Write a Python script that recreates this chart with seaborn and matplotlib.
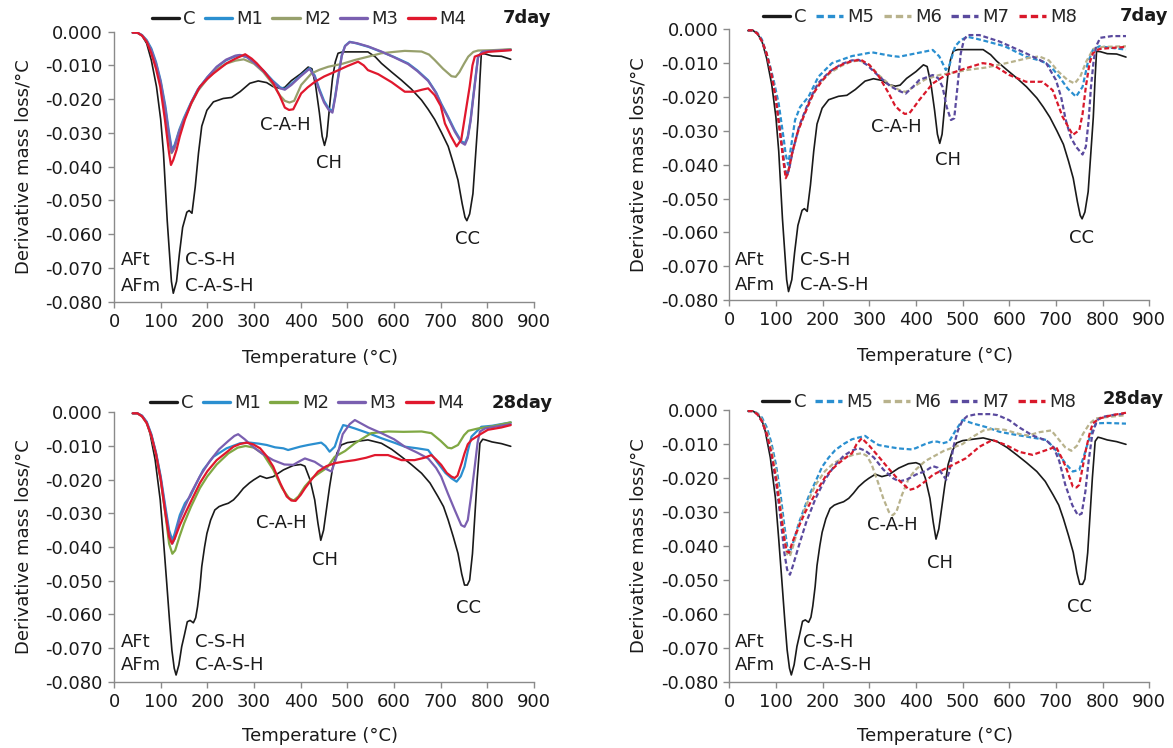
import matplotlib
matplotlib.use("Agg")
import matplotlib.pyplot as plt
import seaborn as sns
from matplotlib.ticker import FormatStrFormatter, MultipleLocator

######### DTG data (temperature in C, derivative mass loss /C) #########

# 7 day control
C7_T = [40, 50, 60, 70, 80, 91, 100, 106, 110, 114,
        119, 123, 127, 134, 140, 147, 156, 161, 167, 174,
        181, 188, 199, 213, 234, 252, 270, 291, 309, 327,
        341, 356, 366, 380, 400, 416, 424, 432, 440, 446,
        451, 456, 462, 468, 474, 480, 490, 510, 544, 560,
        573, 595, 616, 637, 659, 673, 687, 702, 716, 727,
        737, 746, 752, 756, 762, 769, 775, 780, 784, 787,
        795, 810, 830, 850]
C7_Y = [-0.0004, -0.0003, -0.0012, -0.0035, -0.0085, -0.0163, -0.026, -0.036, -0.046, -0.056,
        -0.066, -0.074, -0.0775, -0.074, -0.066, -0.058, -0.0535, -0.053, -0.0538, -0.046,
        -0.036, -0.028, -0.0233, -0.0208, -0.0198, -0.0195, -0.0178, -0.0153, -0.0146, -0.0151,
        -0.0163, -0.0168, -0.0165, -0.0145, -0.0125, -0.0105, -0.011, -0.016, -0.024, -0.031,
        -0.0337, -0.031, -0.022, -0.014, -0.009, -0.0064, -0.006, -0.006, -0.006, -0.0075,
        -0.0094, -0.012, -0.0144, -0.017, -0.0203, -0.023, -0.026, -0.030, -0.034, -0.039,
        -0.044, -0.051, -0.055, -0.056, -0.054, -0.048, -0.036, -0.026, -0.014, -0.0065,
        -0.0066, -0.0072, -0.0073, -0.0082]

M13_7_T = [40, 50, 60, 70, 80, 90, 100, 110, 117, 124,
           130, 140, 150, 165, 180, 200, 220, 240, 260, 270,
           285, 300, 320, 340, 356, 366, 380, 400, 419, 430,
           440, 450, 460, 468, 474, 480, 488, 495, 505, 520,
           545, 573, 600, 630, 650, 673, 690, 701, 715, 730,
           744, 752, 758, 764, 769, 775, 780, 790, 810, 850]
M1_7_Y = [-0.0003, -0.0003, -0.001, -0.0025, -0.005, -0.009, -0.0145, -0.022, -0.029, -0.035,
          -0.0335, -0.029, -0.0255, -0.021, -0.017, -0.0135, -0.0105, -0.0085, -0.0073, -0.007,
          -0.0075, -0.009, -0.0115, -0.0145, -0.0165, -0.017, -0.0155, -0.013, -0.0108, -0.013,
          -0.017, -0.0205, -0.0228, -0.0235, -0.019, -0.0135, -0.007, -0.0042, -0.003, -0.0035,
          -0.0045, -0.006, -0.0075, -0.0094, -0.0115, -0.0144, -0.018, -0.0213, -0.025, -0.0292,
          -0.0325, -0.033, -0.031, -0.026, -0.020, -0.013, -0.0074, -0.0058, -0.0057, -0.0053]
M3_7_Y = [-0.0003, -0.0003, -0.0011, -0.0028, -0.0055, -0.0095, -0.015, -0.023, -0.030, -0.0358,
          -0.034, -0.0295, -0.026, -0.0212, -0.0172, -0.0135, -0.0104, -0.0083, -0.0071, -0.0069,
          -0.0076, -0.0092, -0.0117, -0.0148, -0.0168, -0.0172, -0.0158, -0.0132, -0.011, -0.0135,
          -0.0175, -0.021, -0.0232, -0.024, -0.0195, -0.014, -0.0072, -0.0043, -0.0031, -0.0034,
          -0.0044, -0.0059, -0.0076, -0.0096, -0.0117, -0.0146, -0.0182, -0.0216, -0.0253, -0.0296,
          -0.0328, -0.0335, -0.0315, -0.0265, -0.0205, -0.0135, -0.0076, -0.0059, -0.0057, -0.0054]

M2_7_T = [40, 50, 60, 70, 80, 90, 100, 110, 117, 123,
          130, 140, 150, 165, 180, 200, 220, 240, 260, 278,
          300, 320, 340, 356, 366, 376, 386, 401, 423, 440,
          459, 490, 516, 545, 573, 600, 623, 659, 675, 687,
          705, 723, 732, 740, 750, 759, 770, 780, 810, 850]
M2_7_Y = [-0.0003, -0.0003, -0.0011, -0.0028, -0.0058, -0.0098, -0.0155, -0.0235, -0.031, -0.036,
          -0.0345, -0.0295, -0.026, -0.0215, -0.0175, -0.014, -0.0112, -0.0095, -0.0086, -0.0082,
          -0.0095, -0.012, -0.0155, -0.019, -0.0205, -0.021, -0.0205, -0.0158, -0.0124, -0.0113,
          -0.0104, -0.0095, -0.0084, -0.0074, -0.0064, -0.006, -0.0057, -0.0059, -0.0068, -0.0084,
          -0.011, -0.0132, -0.0134, -0.012, -0.0095, -0.0074, -0.006, -0.0056, -0.0055, -0.0052]

M4_7_T = [40, 50, 60, 70, 80, 90, 99, 109, 118, 122,
          127, 134, 141, 152, 166, 184, 200, 213, 241, 260,
          270, 281, 295, 306, 323, 341, 355, 366, 375, 384,
          401, 415, 430, 450, 473, 500, 523, 535, 544, 566,
          595, 623, 644, 660, 673, 687, 700, 709, 722, 734,
          744, 752, 762, 768, 773, 790, 801, 850]
M4_7_Y = [-0.0003, -0.0003, -0.0012, -0.003, -0.0065, -0.011, -0.0163, -0.026, -0.036, -0.0395,
          -0.038, -0.035, -0.031, -0.026, -0.021, -0.0163, -0.014, -0.0124, -0.0094, -0.008,
          -0.0074, -0.0067, -0.008, -0.0094, -0.012, -0.0153, -0.019, -0.0225, -0.0232, -0.023,
          -0.0183, -0.0165, -0.0149, -0.0133, -0.0119, -0.0102, -0.0089, -0.010, -0.0114, -0.0126,
          -0.015, -0.0178, -0.0178, -0.0172, -0.0168, -0.0188, -0.022, -0.0272, -0.031, -0.034,
          -0.032, -0.025, -0.0163, -0.010, -0.0074, -0.0065, -0.006, -0.0055]

M5_7_T = [40, 50, 60, 70, 84, 95, 106, 116, 121, 126,
          131, 141, 152, 170, 191, 220, 263, 306, 349, 364,
          400, 436, 450, 464, 472, 484, 496, 510, 530, 550,
          590, 636, 665, 679, 695, 707, 725, 743, 757, 768,
          779, 793, 820, 850]
M5_7_Y = [-0.0003, -0.0003, -0.001, -0.003, -0.009, -0.015, -0.022, -0.0317, -0.037, -0.040,
          -0.036, -0.0268, -0.0229, -0.0199, -0.014, -0.010, -0.0079, -0.0068, -0.0079, -0.0081,
          -0.0071, -0.0061, -0.008, -0.012, -0.0105, -0.005, -0.0032, -0.0022, -0.0028, -0.0035,
          -0.005, -0.0081, -0.0092, -0.010, -0.012, -0.014, -0.0175, -0.0199, -0.017, -0.010,
          -0.0061, -0.005, -0.0055, -0.006]

M6_7_T = [40, 50, 60, 70, 80, 90, 100, 110, 118, 123,
          128, 136, 150, 170, 190, 215, 240, 262, 280, 300,
          320, 345, 365, 378, 395, 420, 450, 480, 510, 550,
          600, 640, 664, 685, 705, 725, 740, 752, 765, 780,
          800, 850]
M6_7_Y = [-0.0003, -0.0003, -0.0012, -0.0035, -0.007, -0.0125, -0.020, -0.031, -0.040, -0.043,
          -0.041, -0.036, -0.029, -0.022, -0.0165, -0.013, -0.0108, -0.0095, -0.0092, -0.0105,
          -0.0135, -0.0165, -0.018, -0.0185, -0.017, -0.0148, -0.0135, -0.0128, -0.012, -0.0113,
          -0.0098, -0.0085, -0.008, -0.0092, -0.0125, -0.015, -0.016, -0.014, -0.0095, -0.0058,
          -0.0052, -0.005]

M7_7_T = [40, 50, 60, 70, 80, 90, 100, 110, 118, 123,
          128, 136, 150, 170, 190, 215, 240, 262, 277, 295,
          320, 345, 364, 378, 395, 407, 436, 448, 457, 466,
          475, 482, 489, 496, 503, 511, 536, 579, 636, 679,
          700, 711, 721, 732, 743, 757, 764, 770, 775, 781,
          786, 795, 820, 850]
M7_7_Y = [-0.0003, -0.0003, -0.0012, -0.0035, -0.0072, -0.0128, -0.0205, -0.0315, -0.040, -0.0435,
          -0.0415, -0.036, -0.0285, -0.0215, -0.016, -0.0125, -0.0103, -0.0092, -0.009, -0.0105,
          -0.0138, -0.0168, -0.0182, -0.019, -0.0168, -0.015, -0.0135, -0.0145, -0.017, -0.023,
          -0.0268, -0.0263, -0.017, -0.0071, -0.003, -0.0017, -0.0017, -0.0036, -0.0071, -0.010,
          -0.015, -0.020, -0.0268, -0.032, -0.0347, -0.037, -0.0347, -0.027, -0.017, -0.009,
          -0.005, -0.0025, -0.002, -0.002]

M8_7_T = [40, 50, 60, 70, 80, 90, 100, 110, 117, 121,
          126, 134, 145, 160, 180, 200, 220, 245, 265, 282,
          300, 320, 340, 355, 364, 376, 386, 396, 407, 436,
          464, 507, 543, 560, 571, 600, 636, 671, 693, 714,
          736, 750, 757, 764, 772, 779, 793, 820, 850]
M8_7_Y = [-0.0003, -0.0003, -0.0012, -0.0035, -0.0072, -0.013, -0.021, -0.032, -0.040, -0.044,
          -0.0425, -0.037, -0.031, -0.0255, -0.019, -0.015, -0.012, -0.0102, -0.0093, -0.009,
          -0.0105, -0.0138, -0.0185, -0.0225, -0.0238, -0.025, -0.0248, -0.023, -0.0209, -0.016,
          -0.0135, -0.0115, -0.010, -0.0103, -0.011, -0.0135, -0.0155, -0.0155, -0.018, -0.0258,
          -0.0312, -0.0298, -0.025, -0.017, -0.010, -0.0071, -0.0058, -0.0055, -0.0052]

# 28 day
C28_T = [40, 50, 60, 70, 77, 88, 99, 106, 113, 119,
         124, 129, 133, 139, 145, 151, 157, 163, 170, 175,
         179, 184, 188, 194, 199, 207, 216, 225, 234, 245,
         256, 266, 277, 290, 299, 313, 327, 341, 363, 384,
         400, 409, 420, 430, 437, 443, 449, 455, 462, 469,
         478, 487, 500, 516, 544, 573, 595, 616, 637, 659,
         677, 694, 706, 716, 727, 737, 745, 751, 757, 762,
         768, 773, 778, 784, 790, 796, 810, 830, 850]
C28_Y = [-0.0003, -0.0003, -0.001, -0.003, -0.0062, -0.014, -0.026, -0.038, -0.0508, -0.062,
         -0.0706, -0.076, -0.078, -0.075, -0.0696, -0.066, -0.0622, -0.0618, -0.0625, -0.061,
         -0.0577, -0.052, -0.0458, -0.040, -0.036, -0.032, -0.029, -0.028, -0.0275, -0.027,
         -0.026, -0.0245, -0.0226, -0.021, -0.0201, -0.0189, -0.0196, -0.0191, -0.0171, -0.0158,
         -0.0155, -0.016, -0.020, -0.026, -0.033, -0.038, -0.035, -0.029, -0.022, -0.016,
         -0.012, -0.0097, -0.009, -0.0087, -0.0082, -0.0092, -0.011, -0.0132, -0.0155, -0.0181,
         -0.021, -0.025, -0.028, -0.032, -0.037, -0.0419, -0.048, -0.0513, -0.0513, -0.0498,
         -0.042, -0.031, -0.020, -0.0092, -0.008, -0.0082, -0.0088, -0.0093, -0.0101]

M1_28_T = [40, 50, 60, 70, 80, 90, 100, 110, 118, 125,
           130, 141, 152, 163, 177, 191, 213, 241, 270, 291,
           310, 327, 345, 363, 373, 399, 416, 444, 453, 462,
           473, 482, 491, 500, 516, 545, 573, 600, 623, 650,
           673, 694, 710, 723, 734, 743, 751, 758, 766, 787,
           810, 850]
M1_28_Y = [-0.0003, -0.0003, -0.001, -0.0028, -0.0065, -0.012, -0.019, -0.028, -0.035, -0.038,
           -0.036, -0.0305, -0.027, -0.025, -0.021, -0.0171, -0.0132, -0.0107, -0.0092, -0.009,
           -0.0093, -0.0097, -0.0104, -0.0107, -0.0112, -0.0102, -0.0097, -0.009, -0.010, -0.0117,
           -0.0102, -0.0065, -0.0038, -0.0041, -0.0048, -0.0062, -0.0077, -0.009, -0.0102, -0.0107,
           -0.0112, -0.0151, -0.018, -0.0196, -0.0206, -0.019, -0.0161, -0.0115, -0.0072, -0.0043,
           -0.004, -0.003]

M2_28_T = [40, 50, 60, 70, 80, 90, 100, 110, 118, 125,
           131, 140, 150, 165, 184, 200, 220, 245, 265, 282,
           300, 320, 341, 360, 375, 385, 395, 409, 425, 440,
           456, 473, 495, 516, 551, 587, 620, 659, 680, 700,
           715, 723, 737, 750, 759, 780, 810, 850]
M2_28_Y = [-0.0003, -0.0003, -0.0012, -0.0032, -0.007, -0.0125, -0.020, -0.030, -0.039, -0.042,
           -0.041, -0.037, -0.033, -0.028, -0.0225, -0.019, -0.0155, -0.0122, -0.0105, -0.010,
           -0.0105, -0.0125, -0.017, -0.0225, -0.0255, -0.0262, -0.025, -0.022, -0.0195, -0.018,
           -0.0165, -0.0132, -0.0115, -0.0092, -0.0062, -0.0057, -0.0058, -0.0057, -0.0062, -0.0085,
           -0.0105, -0.0107, -0.0097, -0.0068, -0.0055, -0.0048, -0.0042, -0.003]

M3_28_T = [40, 50, 60, 70, 80, 90, 100, 110, 118, 125,
           130, 140, 152, 165, 184, 205, 225, 245, 258, 266,
           280, 300, 320, 341, 365, 384, 398, 409, 430, 451,
           466, 480, 490, 505, 516, 545, 573, 600, 623, 650,
           673, 690, 701, 715, 730, 744, 751, 758, 765, 773,
           779, 784, 795, 820, 850]
M3_28_Y = [-0.0003, -0.0003, -0.0011, -0.003, -0.0068, -0.0122, -0.0195, -0.029, -0.036, -0.039,
           -0.0375, -0.032, -0.028, -0.024, -0.019, -0.0145, -0.011, -0.0085, -0.007, -0.0065,
           -0.008, -0.0105, -0.0125, -0.0142, -0.0155, -0.0156, -0.0145, -0.0137, -0.0147, -0.0166,
           -0.0176, -0.012, -0.0065, -0.0035, -0.0023, -0.0045, -0.0062, -0.008, -0.0102, -0.012,
           -0.0137, -0.0165, -0.0191, -0.024, -0.029, -0.0335, -0.034, -0.032, -0.025, -0.016,
           -0.009, -0.0057, -0.0048, -0.0042, -0.0035]

M4_28_T = [40, 50, 60, 70, 80, 90, 100, 110, 118, 124,
           130, 141, 156, 170, 184, 200, 220, 240, 256, 270,
           284, 298, 313, 327, 341, 356, 370, 380, 389, 400,
           409, 423, 437, 455, 473, 495, 516, 540, 559, 587,
           616, 644, 665, 680, 690, 701, 713, 723, 730, 736,
           745, 751, 758, 766, 785, 801, 830, 850]
M4_28_Y = [-0.0003, -0.0003, -0.0012, -0.0032, -0.007, -0.0125, -0.020, -0.030, -0.037, -0.039,
           -0.0375, -0.0335, -0.029, -0.025, -0.021, -0.0175, -0.0142, -0.012, -0.0102, -0.0094,
           -0.009, -0.0095, -0.0107, -0.013, -0.0161, -0.021, -0.025, -0.0262, -0.0263, -0.0245,
           -0.0226, -0.020, -0.0176, -0.016, -0.0151, -0.0146, -0.0142, -0.0135, -0.0127, -0.0127,
           -0.0142, -0.0142, -0.0135, -0.0127, -0.014, -0.0156, -0.018, -0.0191, -0.0195, -0.0188,
           -0.015, -0.0122, -0.0095, -0.0082, -0.0065, -0.0052, -0.0045, -0.0038]

M5_28_T = [40, 50, 60, 70, 80, 90, 100, 110, 118, 124,
           129, 135, 149, 170, 185, 199, 213, 227, 245, 263,
           280, 291, 305, 320, 340, 363, 391, 400, 420, 436,
           446, 457, 465, 471, 485, 500, 521, 550, 579, 610,
           636, 679, 695, 707, 722, 736, 750, 760, 768, 778,
           786, 810, 850]
M5_28_Y = [-0.0003, -0.0003, -0.0009, -0.0022, -0.005, -0.0095, -0.016, -0.025, -0.034, -0.040,
           -0.0422, -0.040, -0.0333, -0.0255, -0.021, -0.0167, -0.014, -0.0118, -0.010, -0.0086,
           -0.008, -0.0076, -0.009, -0.0103, -0.0108, -0.0113, -0.0116, -0.0112, -0.010, -0.0093,
           -0.0093, -0.0098, -0.0095, -0.0093, -0.006, -0.0029, -0.0039, -0.005, -0.0064, -0.0072,
           -0.0078, -0.0088, -0.011, -0.0132, -0.016, -0.0181, -0.0176, -0.0135, -0.0098, -0.006,
           -0.0039, -0.0038, -0.004]

M6_28_T = [40, 50, 60, 70, 80, 90, 100, 110, 118, 124,
           130, 137, 149, 165, 185, 205, 225, 245, 265, 284,
           295, 305, 318, 330, 342, 350, 358, 370, 385, 400,
           420, 440, 460, 480, 500, 520, 545, 565, 590, 620,
           640, 665, 690, 705, 720, 733, 745, 758, 772, 785,
           800, 850]
M6_28_Y = [-0.0003, -0.0003, -0.001, -0.0028, -0.006, -0.011, -0.018, -0.028, -0.037, -0.0425,
           -0.043, -0.040, -0.034, -0.028, -0.022, -0.018, -0.0155, -0.0142, -0.0132, -0.0127,
           -0.0135, -0.016, -0.021, -0.026, -0.030, -0.031, -0.030, -0.025, -0.020, -0.0175,
           -0.015, -0.0135, -0.012, -0.011, -0.010, -0.008, -0.006, -0.0055, -0.0058, -0.007,
           -0.0075, -0.0065, -0.006, -0.0085, -0.011, -0.012, -0.0105, -0.007, -0.004, -0.0025,
           -0.0022, -0.0015]

M7_28_T = [40, 50, 60, 70, 80, 90, 100, 110, 118, 124,
           130, 136, 149, 165, 185, 205, 225, 245, 262, 277,
           292, 310, 330, 350, 364, 380, 400, 420, 436, 447,
           457, 465, 472, 480, 490, 500, 510, 530, 560, 575,
           600, 620, 650, 680, 695, 707, 720, 735, 747, 755,
           763, 770, 778, 788, 800, 820, 850]
M7_28_Y = [-0.0003, -0.0003, -0.0012, -0.0033, -0.007, -0.013, -0.021, -0.032, -0.042, -0.047,
           -0.0485, -0.046, -0.040, -0.033, -0.026, -0.0205, -0.0165, -0.0135, -0.012, -0.0112,
           -0.012, -0.014, -0.0175, -0.020, -0.021, -0.0205, -0.019, -0.018, -0.0165, -0.017,
           -0.019, -0.0205, -0.018, -0.011, -0.006, -0.003, -0.0018, -0.0012, -0.0012, -0.0015,
           -0.003, -0.005, -0.0075, -0.009, -0.011, -0.015, -0.022, -0.028, -0.031, -0.0305,
           -0.024, -0.015, -0.007, -0.003, -0.002, -0.0015, -0.001]

M8_28_T = [40, 50, 60, 70, 80, 90, 100, 110, 118, 123,
           128, 135, 149, 163, 177, 191, 206, 220, 234, 250,
           263, 273, 284, 300, 320, 340, 363, 386, 400, 420,
           436, 471, 507, 536, 564, 593, 621, 650, 679, 700,
           712, 721, 736, 744, 750, 757, 764, 772, 779, 793,
           820, 850]
M8_28_Y = [-0.0003, -0.0003, -0.0012, -0.0033, -0.007, -0.0125, -0.020, -0.030, -0.038, -0.0415,
           -0.042, -0.039, -0.0343, -0.030, -0.0265, -0.023, -0.0196, -0.0175, -0.0157, -0.014,
           -0.0127, -0.010, -0.0083, -0.0105, -0.0137, -0.017, -0.0206, -0.0235, -0.023, -0.021,
           -0.0191, -0.0167, -0.0142, -0.0108, -0.0088, -0.0103, -0.0123, -0.0132, -0.0118, -0.0108,
           -0.014, -0.0167, -0.0225, -0.0228, -0.022, -0.017, -0.0118, -0.007, -0.0039, -0.0025,
           -0.0015, -0.0008]

# colours
col = {'C': '#1a1a1a', 'M1': '#2b8fd0', 'M2_7': '#97a06c', 'M2_28': '#80a843', 'M3': '#7a5fb0',
       'M4': '#e0182d', 'M5': '#2a8fd0', 'M6': '#b8b28c', 'M7': '#5a4a9e', 'M8': '#d9182a'}

sns.set_theme(style="white")
plt.rcParams['font.family'] = ['DejaVu Sans']
plt.rcParams['axes.unicode_minus'] = False

fig = plt.figure(figsize=(11.73, 7.48), dpi=100)
ax1 = fig.add_axes([0.0972, 0.5967, 0.3581, 0.3610])
ax2 = fig.add_axes([0.6217, 0.5989, 0.3581, 0.3619])
ax3 = fig.add_axes([0.0972, 0.0886, 0.3581, 0.3602])
ax4 = fig.add_axes([0.6217, 0.0886, 0.3581, 0.3632])

FS = 13

def draw(ax, series, day, ann, leg_x, leg_y, day_x, day_y, xlab_y):
    for name, t, y, c, dashed in series:
        sns.lineplot(x=t, y=y, ax=ax, color=c, lw=1.2 if name == 'C' else 1.6,
                     label=name, sort=False, estimator=None)
        if dashed:
            ax.lines[-1].set_dashes([2.2, 1.2])
    ax.set_xlim(0, 900)
    ax.set_ylim(-0.08, 0)
    ax.xaxis.set_major_locator(MultipleLocator(100))
    ax.yaxis.set_major_locator(MultipleLocator(0.01))
    ax.yaxis.set_major_formatter(FormatStrFormatter('%.3f'))
    for s in ['top', 'right']:
        ax.spines[s].set_visible(False)
    for s in ['left', 'bottom']:
        ax.spines[s].set_color('#8a8a8a')
        ax.spines[s].set_linewidth(1.0)
    ax.tick_params(axis='both', direction='out', length=4, width=1, color='#8a8a8a',
                   labelsize=FS, labelcolor='#1a1a1a', left=True, bottom=True, pad=4)
    ax.set_xlabel('Temperature (°C)', fontsize=FS, color='#1a1a1a')
    ax.set_ylabel('Derivative mass loss/°C', fontsize=FS, color='#1a1a1a')
    ax.xaxis.set_label_coords(0.49, xlab_y)
    ax.yaxis.set_label_coords(-0.195, 0.5)
    leg = ax.legend(ncol=5, loc='center left', bbox_to_anchor=(leg_x, leg_y), frameon=False,
                    fontsize=FS, handlelength=1.5, handletextpad=0.25, columnspacing=0.5,
                    borderpad=0, borderaxespad=0)
    for h in leg.get_lines():
        h.set_linewidth(2.4)
    ax.text(day_x, day_y, day, transform=ax.transAxes, ha='right', va='center',
            fontsize=FS, fontweight='bold', color='#1a1a1a')
    for txt, x, y, ha in ann:
        ax.text(x, y, txt, ha=ha, va='center', fontsize=FS, color='#1a1a1a')


s1 = [('C', C7_T, C7_Y, col['C'], False),
      ('M1', M13_7_T, M1_7_Y, col['M1'], False),
      ('M2', M2_7_T, M2_7_Y, col['M2_7'], False),
      ('M3', M13_7_T, M3_7_Y, col['M3'], False),
      ('M4', M4_7_T, M4_7_Y, col['M4'], False)]
s2 = [('C', C7_T, C7_Y, col['C'], False),
      ('M5', M5_7_T, M5_7_Y, col['M5'], True),
      ('M6', M6_7_T, M6_7_Y, col['M6'], True),
      ('M7', M7_7_T, M7_7_Y, col['M7'], True),
      ('M8', M8_7_T, M8_7_Y, col['M8'], True)]
s3 = [('C', C28_T, C28_Y, col['C'], False),
      ('M1', M1_28_T, M1_28_Y, col['M1'], False),
      ('M2', M2_28_T, M2_28_Y, col['M2_28'], False),
      ('M3', M3_28_T, M3_28_Y, col['M3'], False),
      ('M4', M4_28_T, M4_28_Y, col['M4'], False)]
s4 = [('C', C28_T, C28_Y, col['C'], False),
      ('M5', M5_28_T, M5_28_Y, col['M5'], True),
      ('M6', M6_28_T, M6_28_Y, col['M6'], True),
      ('M7', M7_28_T, M7_28_Y, col['M7'], True),
      ('M8', M8_28_T, M8_28_Y, col['M8'], True)]

ann1 = [('C-A-H', 366, -0.0277, 'center'), ('CH', 461, -0.0389, 'center'), ('CC', 758, -0.0613, 'center'),
        ('AFt', 14, -0.0678, 'left'), ('AFm', 14, -0.0753, 'left'),
        ('C-S-H', 152, -0.0678, 'left'), ('C-A-S-H', 152, -0.0753, 'left')]
ann2 = [('C-A-H', 359, -0.0288, 'center'), ('CH', 469, -0.0386, 'center'), ('CC', 755, -0.0618, 'center'),
        ('AFt', 13, -0.0682, 'left'), ('AFm', 13, -0.0757, 'left'),
        ('C-S-H', 152, -0.0682, 'left'), ('C-A-S-H', 152, -0.0757, 'left')]
ann3 = [('C-A-H', 359, -0.0330, 'center'), ('CH', 452, -0.0439, 'center'), ('CC', 759, -0.0582, 'center'),
        ('AFt', 14, -0.0681, 'left'), ('AFm', 14, -0.0750, 'left'),
        ('C-S-H', 173, -0.0681, 'left'), ('C-A-S-H', 173, -0.0750, 'left')]
ann4 = [('C-A-H', 350, -0.0339, 'center'), ('CH', 451, -0.0451, 'center'), ('CC', 751, -0.0579, 'center'),
        ('AFt', 13, -0.0682, 'left'), ('AFm', 13, -0.0751, 'left'),
        ('C-S-H', 159, -0.0682, 'left'), ('C-A-S-H', 159, -0.0751, 'left')]

draw(ax1, s1, '7day', ann1, 0.09, 1.045, 1.04, 1.05, -0.175)
draw(ax2, s2, '7day', ann2, 0.08, 1.045, 1.045, 1.05, -0.175)
draw(ax3, s3, '28day', ann3, 0.085, 1.035, 1.045, 1.035, -0.168)
draw(ax4, s4, '28day', ann4, 0.078, 1.028, 1.035, 1.042, -0.168)

fig.savefig('out.png', dpi=100, facecolor='white')
